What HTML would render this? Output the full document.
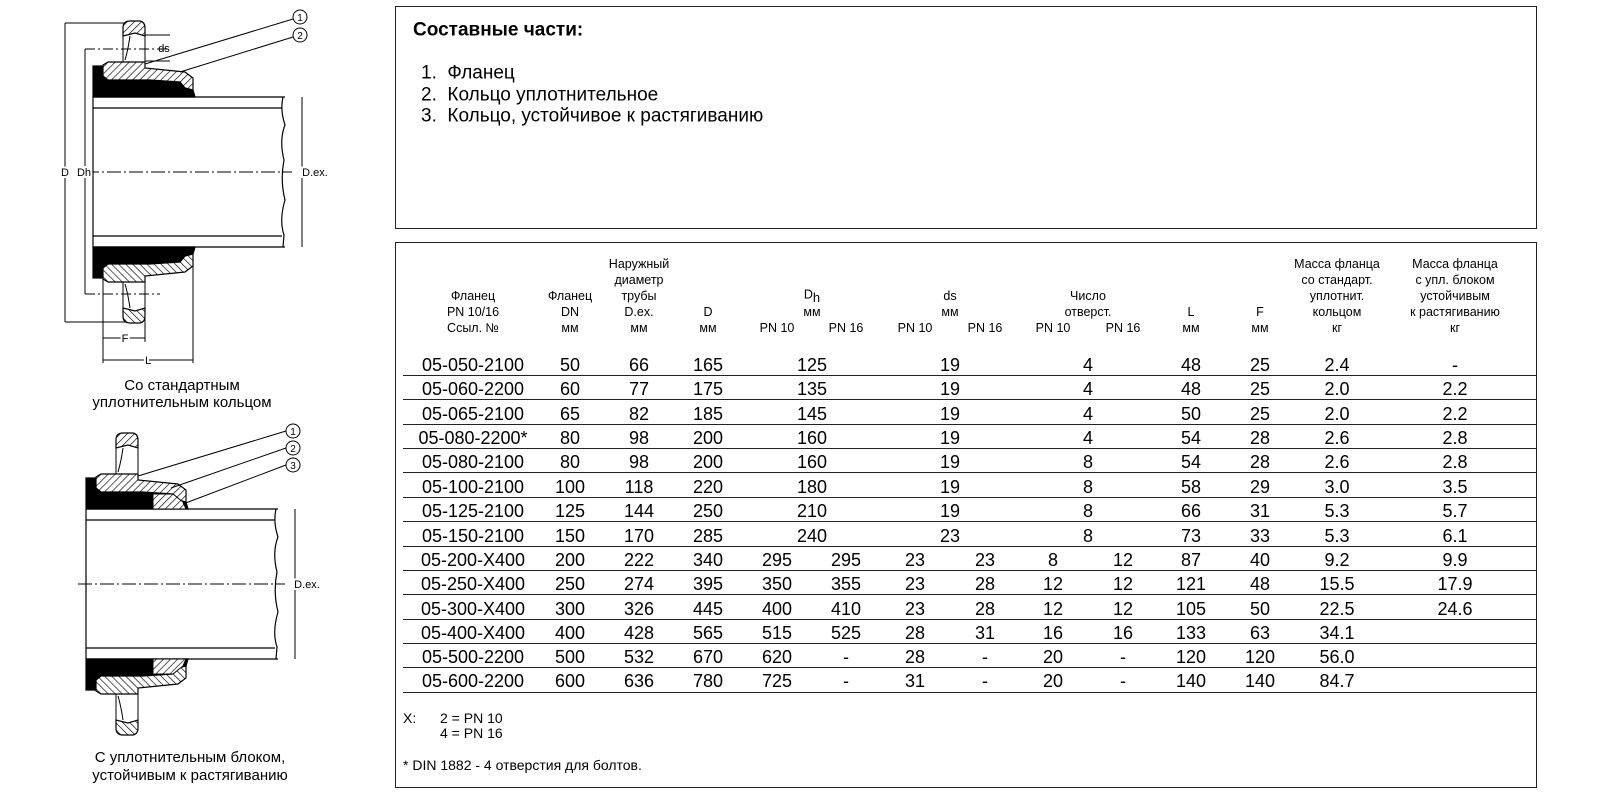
<!DOCTYPE html>
<html><head><meta charset="utf-8">
<style>
html,body{margin:0;padding:0;background:#fff;}
body{width:1600px;height:800px;position:relative;overflow:hidden;font-family:"Liberation Sans",sans-serif;color:#000;}
.t{position:absolute;white-space:nowrap;transform:translate(-50%,-50%);line-height:1;}
.l{position:absolute;white-space:nowrap;transform:translateY(-50%);line-height:1;}
.h{font-size:12.5px;}
.d{font-size:18px;}
.box{position:absolute;border:1.5px solid #222;box-sizing:border-box;}
.rl{position:absolute;left:403px;width:1133px;height:0;border-top:1.5px solid #222;}
</style></head><body>

<svg width="380" height="800" style="position:absolute;left:0;top:0" xmlns="http://www.w3.org/2000/svg">
<defs>
<pattern id="hx" width="5" height="5" patternUnits="userSpaceOnUse" patternTransform="rotate(45)">
<rect width="5" height="5" fill="#fff"/><line x1="0" y1="0" x2="0" y2="5" stroke="#000" stroke-width="1.3"/></pattern>
<g id="half" stroke="#000" stroke-width="1.2">
  <path d="M93,66 L103,66 L103,76 L108,80 L150,80 L180,82 L185,88 L193,90 L195,97 L93,97 Z" fill="#000"/>
  <path d="M103,65 L108,62 L145,62 L145,68 L185,72 L193,78 L193,90 L185,88 L180,82 L150,80 L108,80 L103,76 Z" fill="url(#hx)"/>
  <path d="M123,28 Q123,21 130,21 L140,21 Q145,22 145,28 L145,36 L135,33 L123,36 Z" fill="url(#hx)"/>
  <path d="M123,36 L123,62 M145,36 L145,62 M130,36 Q128,50 125,60" fill="none" stroke-width="1"/>
</g>
<g id="pipe" stroke="#000" fill="none" stroke-width="1.2">
  <line x1="93" y1="97" x2="285" y2="97"/><line x1="93" y1="247" x2="285" y2="247"/>
  <line x1="93" y1="108" x2="282" y2="108"/><line x1="93" y1="236" x2="282" y2="236"/>
  <line x1="93" y1="97" x2="93" y2="247"/>
  <path d="M283,97 Q280,110 285,125 Q279,140 284,160 Q280,180 285,200 Q279,220 284,235 L283,247"/>
  <line x1="85" y1="172" x2="292" y2="172" stroke-dasharray="14,3,2,3" stroke-width="1"/>
</g>
</defs>
<!-- drawing 1 -->
<use href="#pipe"/>
<use href="#half"/>
<use href="#half" transform="matrix(1,0,0,-1,0,344)"/>
<g stroke="#000" stroke-width="1" fill="none">
<line x1="65" y1="23" x2="65" y2="322"/><line x1="65" y1="23" x2="125" y2="23"/><line x1="65" y1="322" x2="125" y2="322"/>
<line x1="85" y1="49" x2="85" y2="294"/>
<line x1="85" y1="49" x2="170" y2="49" stroke-dasharray="10,3,2,3"/><line x1="85" y1="294" x2="160" y2="294" stroke-dasharray="10,3,2,3"/>
<line x1="145" y1="35" x2="170" y2="35"/><line x1="145" y1="61" x2="170" y2="61"/>
<line x1="302" y1="97" x2="302" y2="247"/>
<line x1="103" y1="277" x2="103" y2="363"/><line x1="145" y1="300" x2="145" y2="342"/><line x1="193" y1="250" x2="193" y2="363"/>
<line x1="103" y1="338" x2="145" y2="338"/><line x1="103" y1="360" x2="193" y2="360"/>
<line x1="145" y1="64" x2="293" y2="19"/><line x1="180" y1="72" x2="293" y2="37"/>
<circle cx="300" cy="17" r="7"/><circle cx="300" cy="35" r="7"/>
</g>
<g font-family="Liberation Sans,sans-serif" font-size="11" text-anchor="middle">
<text x="65" y="176" style="paint-order:stroke" stroke="#fff" stroke-width="4">D</text>
<text x="84" y="176" style="paint-order:stroke" stroke="#fff" stroke-width="4">Dh</text>
<text x="164" y="52">ds</text>
<text x="315" y="176" style="paint-order:stroke" stroke="#fff" stroke-width="4">D.ex.</text>
<text x="125" y="342" style="paint-order:stroke" stroke="#fff" stroke-width="4">F</text>
<text x="148" y="364" style="paint-order:stroke" stroke="#fff" stroke-width="4">L</text>
<text x="300" y="21" font-size="10">1</text><text x="300" y="39" font-size="10">2</text>
</g>
<!-- drawing 2 -->
<g transform="translate(-7,412)">
<use href="#pipe"/>
<use href="#half"/>
<use href="#half" transform="matrix(1,0,0,-1,0,344)"/>
<path d="M160,82 L180,82 L190,90 L193,97 L160,97 Z" fill="url(#hx)" stroke="#000"/>
<path d="M160,262 L180,262 L190,254 L193,247 L160,247 Z" fill="url(#hx)" stroke="#000"/>
<g stroke="#000" stroke-width="1" fill="none">
<line x1="302" y1="97" x2="302" y2="247"/>
<line x1="145" y1="64" x2="293" y2="19"/><line x1="178" y1="76" x2="293" y2="36"/><line x1="190" y1="92" x2="293" y2="53"/>
<circle cx="300" cy="19" r="7"/><circle cx="300" cy="36" r="7"/><circle cx="300" cy="53" r="7"/>
</g>
<g font-family="Liberation Sans,sans-serif" font-size="11" text-anchor="middle">
<text x="314" y="176" style="paint-order:stroke" stroke="#fff" stroke-width="4">D.ex.</text>
<text x="300" y="23" font-size="10">1</text><text x="300" y="40" font-size="10">2</text><text x="300" y="57" font-size="10">3</text>
</g>
</g>
<g font-family="Liberation Sans,sans-serif" font-size="15" text-anchor="middle">
<text x="182" y="390">Со стандартным</text>
<text x="182" y="407">уплотнительным кольцом</text>
<text x="190" y="762">С уплотнительным блоком,</text>
<text x="190" y="780">устойчивым к растягиванию</text>
</g>
</svg>

<div class="box" style="left:395px;top:6px;width:1142px;height:223px;"></div>
<div class="l" style="left:413px;top:30px;font-size:19px;font-weight:bold;">Составные части:</div>
<div class="l" style="left:421px;top:73px;font-size:19px;">1.&nbsp;&nbsp;Фланец</div>
<div class="l" style="left:421px;top:95px;font-size:19px;">2.&nbsp;&nbsp;Кольцо уплотнительное</div>
<div class="l" style="left:421px;top:116px;font-size:19px;">3.&nbsp;&nbsp;Кольцо, устойчивое к растягиванию</div>

<div class="box" style="left:395px;top:242px;width:1142px;height:546px;"></div>

<!-- headers -->
<div class="h">
<div class="t" style="left:473px;top:296px">Фланец</div><div class="t" style="left:473px;top:312px">PN 10/16</div><div class="t" style="left:473px;top:328px">Ссыл. №</div>
<div class="t" style="left:570px;top:296px">Фланец</div><div class="t" style="left:570px;top:312px">DN</div><div class="t" style="left:570px;top:328px">мм</div>
<div class="t" style="left:639px;top:264px">Наружный</div><div class="t" style="left:639px;top:280px">диаметр</div><div class="t" style="left:639px;top:296px">трубы</div><div class="t" style="left:639px;top:312px">D.ex.</div><div class="t" style="left:639px;top:328px">мм</div>
<div class="t" style="left:708px;top:312px">D</div><div class="t" style="left:708px;top:328px">мм</div>
<div class="t" style="left:812px;top:296px">D<sub style="font-size:13px">h</sub></div><div class="t" style="left:812px;top:312px">мм</div>
<div class="t" style="left:777px;top:328px">PN 10</div><div class="t" style="left:846px;top:328px">PN 16</div>
<div class="t" style="left:950px;top:296px">ds</div><div class="t" style="left:950px;top:312px">мм</div>
<div class="t" style="left:915px;top:328px">PN 10</div><div class="t" style="left:985px;top:328px">PN 16</div>
<div class="t" style="left:1088px;top:296px">Число</div><div class="t" style="left:1088px;top:312px">отверст.</div>
<div class="t" style="left:1053px;top:328px">PN 10</div><div class="t" style="left:1123px;top:328px">PN 16</div>
<div class="t" style="left:1191px;top:312px">L</div><div class="t" style="left:1191px;top:328px">мм</div>
<div class="t" style="left:1260px;top:312px">F</div><div class="t" style="left:1260px;top:328px">мм</div>
<div class="t" style="left:1337px;top:264px">Масса фланца</div><div class="t" style="left:1337px;top:280px">со стандарт.</div><div class="t" style="left:1337px;top:296px">уплотнит.</div><div class="t" style="left:1337px;top:312px">кольцом</div><div class="t" style="left:1337px;top:328px">кг</div>
<div class="t" style="left:1455px;top:264px">Масса фланца</div><div class="t" style="left:1455px;top:280px">с упл. блоком</div><div class="t" style="left:1455px;top:296px">устойчивым</div><div class="t" style="left:1455px;top:312px">к растягиванию</div><div class="t" style="left:1455px;top:328px">кг</div>
</div>

<div id="rows" class="d"></div>

<div class="l" style="left:403px;top:718px;font-size:14px;">X:</div>
<div class="l" style="left:440px;top:718px;font-size:14px;">2 = PN 10</div>
<div class="l" style="left:440px;top:733px;font-size:14px;">4 = PN 16</div>
<div class="l" style="left:403px;top:765px;font-size:14px;">* DIN 1882 - 4 отверстия для болтов.</div>

<div class="d">
<!-- rows generated inline -->
<div class="rl" style="top:375px"></div><div class="rl" style="top:399px"></div><div class="rl" style="top:424px"></div><div class="rl" style="top:448px"></div><div class="rl" style="top:472px"></div><div class="rl" style="top:497px"></div><div class="rl" style="top:521px"></div><div class="rl" style="top:546px"></div><div class="rl" style="top:570px"></div><div class="rl" style="top:594px"></div><div class="rl" style="top:619px"></div><div class="rl" style="top:643px"></div><div class="rl" style="top:667px"></div><div class="rl" style="top:692px"></div>

<div class="t" style="left:473px;top:365px">05-050-2100</div><div class="t" style="left:570px;top:365px">50</div><div class="t" style="left:639px;top:365px">66</div><div class="t" style="left:708px;top:365px">165</div><div class="t" style="left:812px;top:365px">125</div><div class="t" style="left:950px;top:365px">19</div><div class="t" style="left:1088px;top:365px">4</div><div class="t" style="left:1191px;top:365px">48</div><div class="t" style="left:1260px;top:365px">25</div><div class="t" style="left:1337px;top:365px">2.4</div><div class="t" style="left:1455px;top:365px">-</div>

<div class="t" style="left:473px;top:389px">05-060-2200</div><div class="t" style="left:570px;top:389px">60</div><div class="t" style="left:639px;top:389px">77</div><div class="t" style="left:708px;top:389px">175</div><div class="t" style="left:812px;top:389px">135</div><div class="t" style="left:950px;top:389px">19</div><div class="t" style="left:1088px;top:389px">4</div><div class="t" style="left:1191px;top:389px">48</div><div class="t" style="left:1260px;top:389px">25</div><div class="t" style="left:1337px;top:389px">2.0</div><div class="t" style="left:1455px;top:389px">2.2</div>

<div class="t" style="left:473px;top:414px">05-065-2100</div><div class="t" style="left:570px;top:414px">65</div><div class="t" style="left:639px;top:414px">82</div><div class="t" style="left:708px;top:414px">185</div><div class="t" style="left:812px;top:414px">145</div><div class="t" style="left:950px;top:414px">19</div><div class="t" style="left:1088px;top:414px">4</div><div class="t" style="left:1191px;top:414px">50</div><div class="t" style="left:1260px;top:414px">25</div><div class="t" style="left:1337px;top:414px">2.0</div><div class="t" style="left:1455px;top:414px">2.2</div>

<div class="t" style="left:473px;top:438px">05-080-2200*</div><div class="t" style="left:570px;top:438px">80</div><div class="t" style="left:639px;top:438px">98</div><div class="t" style="left:708px;top:438px">200</div><div class="t" style="left:812px;top:438px">160</div><div class="t" style="left:950px;top:438px">19</div><div class="t" style="left:1088px;top:438px">4</div><div class="t" style="left:1191px;top:438px">54</div><div class="t" style="left:1260px;top:438px">28</div><div class="t" style="left:1337px;top:438px">2.6</div><div class="t" style="left:1455px;top:438px">2.8</div>

<div class="t" style="left:473px;top:462px">05-080-2100</div><div class="t" style="left:570px;top:462px">80</div><div class="t" style="left:639px;top:462px">98</div><div class="t" style="left:708px;top:462px">200</div><div class="t" style="left:812px;top:462px">160</div><div class="t" style="left:950px;top:462px">19</div><div class="t" style="left:1088px;top:462px">8</div><div class="t" style="left:1191px;top:462px">54</div><div class="t" style="left:1260px;top:462px">28</div><div class="t" style="left:1337px;top:462px">2.6</div><div class="t" style="left:1455px;top:462px">2.8</div>

<div class="t" style="left:473px;top:487px">05-100-2100</div><div class="t" style="left:570px;top:487px">100</div><div class="t" style="left:639px;top:487px">118</div><div class="t" style="left:708px;top:487px">220</div><div class="t" style="left:812px;top:487px">180</div><div class="t" style="left:950px;top:487px">19</div><div class="t" style="left:1088px;top:487px">8</div><div class="t" style="left:1191px;top:487px">58</div><div class="t" style="left:1260px;top:487px">29</div><div class="t" style="left:1337px;top:487px">3.0</div><div class="t" style="left:1455px;top:487px">3.5</div>

<div class="t" style="left:473px;top:511px">05-125-2100</div><div class="t" style="left:570px;top:511px">125</div><div class="t" style="left:639px;top:511px">144</div><div class="t" style="left:708px;top:511px">250</div><div class="t" style="left:812px;top:511px">210</div><div class="t" style="left:950px;top:511px">19</div><div class="t" style="left:1088px;top:511px">8</div><div class="t" style="left:1191px;top:511px">66</div><div class="t" style="left:1260px;top:511px">31</div><div class="t" style="left:1337px;top:511px">5.3</div><div class="t" style="left:1455px;top:511px">5.7</div>

<div class="t" style="left:473px;top:536px">05-150-2100</div><div class="t" style="left:570px;top:536px">150</div><div class="t" style="left:639px;top:536px">170</div><div class="t" style="left:708px;top:536px">285</div><div class="t" style="left:812px;top:536px">240</div><div class="t" style="left:950px;top:536px">23</div><div class="t" style="left:1088px;top:536px">8</div><div class="t" style="left:1191px;top:536px">73</div><div class="t" style="left:1260px;top:536px">33</div><div class="t" style="left:1337px;top:536px">5.3</div><div class="t" style="left:1455px;top:536px">6.1</div>

<div class="t" style="left:473px;top:560px">05-200-X400</div><div class="t" style="left:570px;top:560px">200</div><div class="t" style="left:639px;top:560px">222</div><div class="t" style="left:708px;top:560px">340</div><div class="t" style="left:777px;top:560px">295</div><div class="t" style="left:846px;top:560px">295</div><div class="t" style="left:915px;top:560px">23</div><div class="t" style="left:985px;top:560px">23</div><div class="t" style="left:1053px;top:560px">8</div><div class="t" style="left:1123px;top:560px">12</div><div class="t" style="left:1191px;top:560px">87</div><div class="t" style="left:1260px;top:560px">40</div><div class="t" style="left:1337px;top:560px">9.2</div><div class="t" style="left:1455px;top:560px">9.9</div>

<div class="t" style="left:473px;top:584px">05-250-X400</div><div class="t" style="left:570px;top:584px">250</div><div class="t" style="left:639px;top:584px">274</div><div class="t" style="left:708px;top:584px">395</div><div class="t" style="left:777px;top:584px">350</div><div class="t" style="left:846px;top:584px">355</div><div class="t" style="left:915px;top:584px">23</div><div class="t" style="left:985px;top:584px">28</div><div class="t" style="left:1053px;top:584px">12</div><div class="t" style="left:1123px;top:584px">12</div><div class="t" style="left:1191px;top:584px">121</div><div class="t" style="left:1260px;top:584px">48</div><div class="t" style="left:1337px;top:584px">15.5</div><div class="t" style="left:1455px;top:584px">17.9</div>

<div class="t" style="left:473px;top:609px">05-300-X400</div><div class="t" style="left:570px;top:609px">300</div><div class="t" style="left:639px;top:609px">326</div><div class="t" style="left:708px;top:609px">445</div><div class="t" style="left:777px;top:609px">400</div><div class="t" style="left:846px;top:609px">410</div><div class="t" style="left:915px;top:609px">23</div><div class="t" style="left:985px;top:609px">28</div><div class="t" style="left:1053px;top:609px">12</div><div class="t" style="left:1123px;top:609px">12</div><div class="t" style="left:1191px;top:609px">105</div><div class="t" style="left:1260px;top:609px">50</div><div class="t" style="left:1337px;top:609px">22.5</div><div class="t" style="left:1455px;top:609px">24.6</div>

<div class="t" style="left:473px;top:633px">05-400-X400</div><div class="t" style="left:570px;top:633px">400</div><div class="t" style="left:639px;top:633px">428</div><div class="t" style="left:708px;top:633px">565</div><div class="t" style="left:777px;top:633px">515</div><div class="t" style="left:846px;top:633px">525</div><div class="t" style="left:915px;top:633px">28</div><div class="t" style="left:985px;top:633px">31</div><div class="t" style="left:1053px;top:633px">16</div><div class="t" style="left:1123px;top:633px">16</div><div class="t" style="left:1191px;top:633px">133</div><div class="t" style="left:1260px;top:633px">63</div><div class="t" style="left:1337px;top:633px">34.1</div>

<div class="t" style="left:473px;top:657px">05-500-2200</div><div class="t" style="left:570px;top:657px">500</div><div class="t" style="left:639px;top:657px">532</div><div class="t" style="left:708px;top:657px">670</div><div class="t" style="left:777px;top:657px">620</div><div class="t" style="left:846px;top:657px">-</div><div class="t" style="left:915px;top:657px">28</div><div class="t" style="left:985px;top:657px">-</div><div class="t" style="left:1053px;top:657px">20</div><div class="t" style="left:1123px;top:657px">-</div><div class="t" style="left:1191px;top:657px">120</div><div class="t" style="left:1260px;top:657px">120</div><div class="t" style="left:1337px;top:657px">56.0</div>

<div class="t" style="left:473px;top:681px">05-600-2200</div><div class="t" style="left:570px;top:681px">600</div><div class="t" style="left:639px;top:681px">636</div><div class="t" style="left:708px;top:681px">780</div><div class="t" style="left:777px;top:681px">725</div><div class="t" style="left:846px;top:681px">-</div><div class="t" style="left:915px;top:681px">31</div><div class="t" style="left:985px;top:681px">-</div><div class="t" style="left:1053px;top:681px">20</div><div class="t" style="left:1123px;top:681px">-</div><div class="t" style="left:1191px;top:681px">140</div><div class="t" style="left:1260px;top:681px">140</div><div class="t" style="left:1337px;top:681px">84.7</div>
</div>
</body></html>
